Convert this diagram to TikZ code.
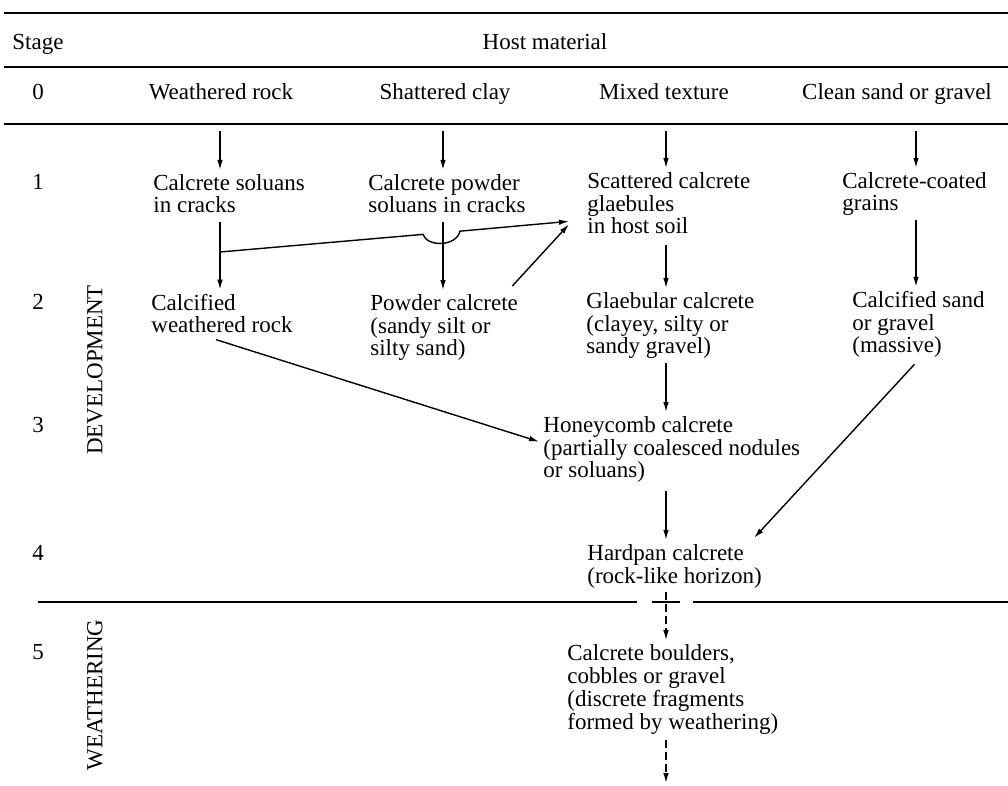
\documentclass[tikz,border=0pt]{standalone}
\usepackage{fontspec}
\setmainfont{Liberation Serif}
\usetikzlibrary{arrows.meta}

\tikzset{
	lbl/.style={font=\fontsize{11.5}{11.4}\selectfont, inner sep=2pt, align=left, anchor=base west},
	hdr/.style={font=\fontsize{11.5}{11.4}\selectfont, inner sep=2pt, anchor=base},
	side/.style={font=\fontsize{11.5}{12}\selectfont, inner sep=0pt, rotate=90},
	rule/.style={line width=0.9pt},
	conn/.style={->, line width=0.7pt}
}

\begin{document}
\begin{tikzpicture}[x=0.5pt, y=-0.5pt, >={Latex[length=5pt,width=2.8pt]}]
	\useasboundingbox (0,0) rectangle (1008,786);

	% rules of the table
	\draw[rule] (4,13)--(1008,13);
	\draw[rule] (4,67)--(1008,67);
	\draw[rule] (4,124)--(1008,124);
	\draw[rule] (38,602)--(637,602);
	\draw[rule] (652,602)--(680,602);
	\draw[rule] (693,602)--(1008,602);

	% column positions
	\coordinate (colA) at (220,0);
	\coordinate (colB) at (443,0);
	\coordinate (colC) at (666,0);
	\coordinate (colD) at (916,0);
	\coordinate (top) at (0,131);

	% heading and stages
	\node[hdr, anchor=base west] (stage) at (8,50) {Stage};
	\node[hdr] (host) at (545,50) {Host material};
	\node[hdr] (s0) at (38,100) {0};
	\node[hdr] (s1) at (38,190) {1};
	\node[hdr] (s2) at (38,310) {2};
	\node[hdr] (s3) at (38,433) {3};
	\node[hdr] (s4) at (38,560) {4};
	\node[hdr] (s5) at (38,660) {5};
	\node[side] (devel) at (95,370) {DEVELOPMENT};
	\node[side] (weath) at (95,695) {WEATHERING};

	% host materials
	\node[hdr] (rock) at (221,100) {Weathered rock};
	\node[hdr] (clay) at (445,100) {Shattered clay};
	\node[hdr] (mixed) at (664,100) {Mixed texture};
	\node[hdr] (sand) at (897,100) {Clean sand or gravel};

	% stages 1 to 5 (placed at the baseline of the last line)
	\node[lbl] (soluans) at (149,213) {Calcrete soluans\\in cracks};
	\node[lbl] (powderA) at (364,213) {Calcrete powder\\soluans in cracks};
	\node[lbl] (scatter) at (583,234) {Scattered calcrete\\glaebules\\in host soil};
	\node[lbl] (coated) at (838,211) {Calcrete-coated\\grains};
	\node[lbl] (calcrock) at (147,333) {Calcified\\weathered rock};
	\node[lbl] (powderB) at (366,356) {Powder calcrete\\(sandy silt or\\silty sand)};
	\node[lbl] (glaeb) at (582,354) {Glaebular calcrete\\(clayey, silty or\\sandy gravel)};
	\node[lbl] (calcsand) at (848,353) {Calcified sand\\or gravel\\(massive)};
	\node[lbl] (honey) at (539,478) {Honeycomb calcrete\\(partially coalesced nodules\\or soluans)};
	\node[lbl] (hardpan) at (583,583) {Hardpan calcrete\\(rock-like horizon)};
	\node[lbl] (boulders) at (563,729) {Calcrete boulders,\\cobbles or gravel\\(discrete fragments\\formed by weathering)};

	\coordinate (fork) at (220,252);
	\coordinate (inA) at ([shift={(-7pt,-9pt)}]scatter.west);
	\coordinate (inB) at ([shift={(-7pt,-10.5pt)}]scatter.west);
	\coordinate (bottomend) at (666,783);

	% vertical connectors
	\draw[conn] (top -| colA)--(soluans.north -| colA);
	\draw[conn] (top -| colB)--(powderA.north -| colB);
	\draw[conn] (top -| colC)--(scatter.north -| colC);
	\draw[conn] (top -| colD)--(coated.north -| colD);
	\draw[conn] ([yshift=-2pt]soluans.south -| colA)--(calcrock.north -| colA);
	\draw[conn] ([yshift=-2pt]powderA.south -| colB)--(powderB.north -| colB);
	\draw[conn] ([yshift=-3pt]scatter.south -| colC)--(glaeb.north -| colC);
	\draw[conn] (coated.south -| colD)--(calcsand.north -| colD);
	\draw[conn] (glaeb.south -| colC)--(honey.north -| colC);
	\draw[conn] ([yshift=-2pt]honey.south -| colC)--(hardpan.north -| colC);

	% crossing connectors
	\draw[conn] (fork)--(423,234.4) .. controls (427,247) and (456,247) .. (460,231.2)--(inA);
	\draw[conn] ([xshift=-5pt,yshift=2pt]powderB.north east)--(inB);
	\draw[conn] ([xshift=-3pt,yshift=-1pt]calcrock.south)--([yshift=4pt]honey.west);
	\draw[conn] ([xshift=-2pt,yshift=-1pt]calcsand.south)--([xshift=-6pt,yshift=1pt]hardpan.north east);

	% weathering
	\draw[conn, dashed, dash pattern=on 4pt off 2pt] (hardpan.south -| colC)--(boulders.north -| colC);
	\draw[conn, dashed, dash pattern=on 4pt off 2pt] ([yshift=-1pt]boulders.south -| colC)--(bottomend);
\end{tikzpicture}
\end{document}
